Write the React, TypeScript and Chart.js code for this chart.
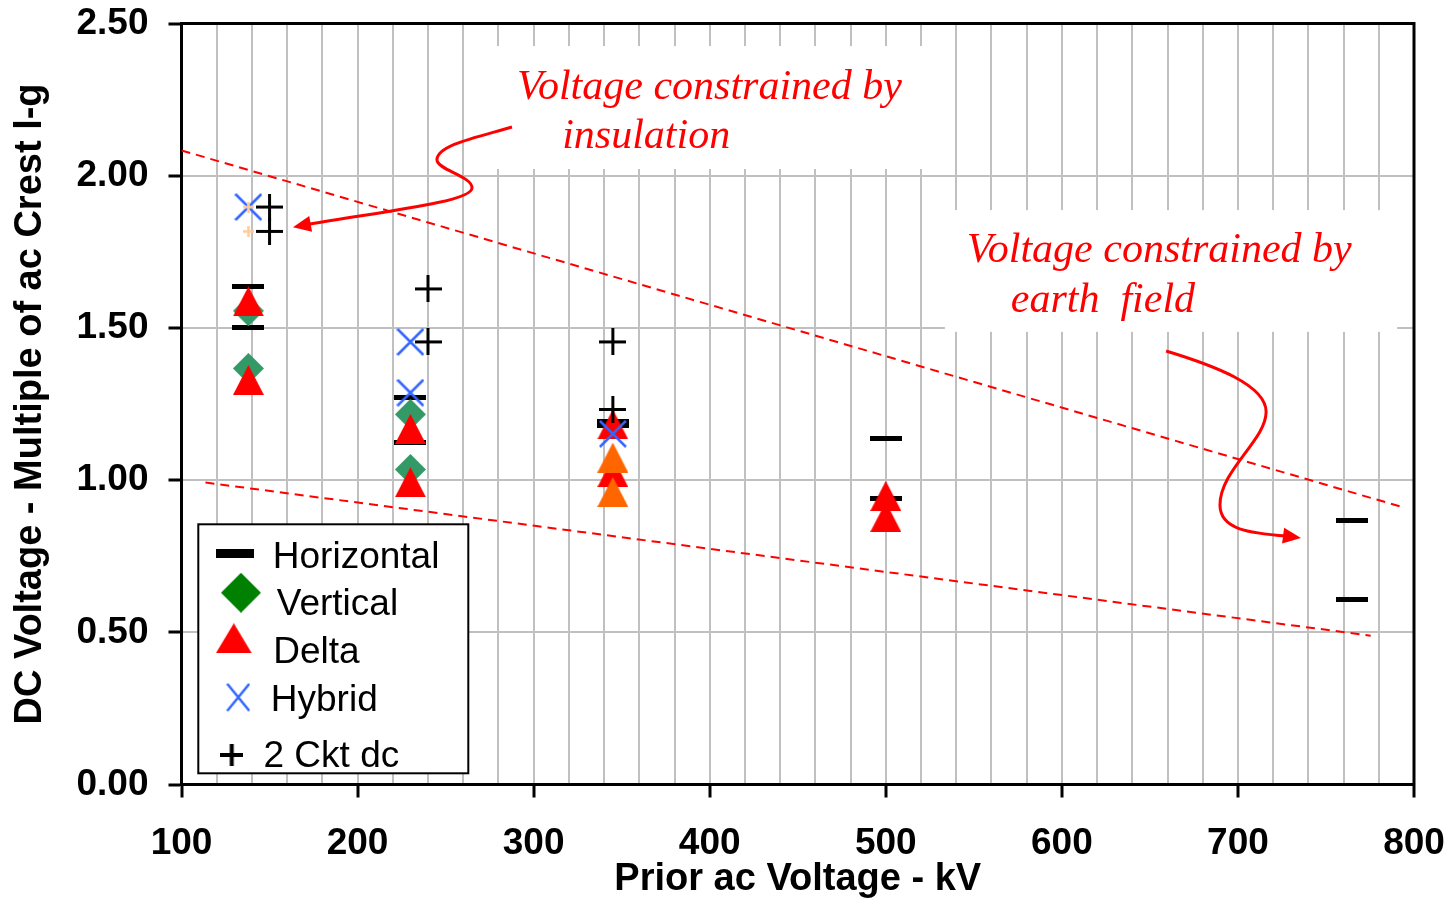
import React, { useEffect, useRef } from "react";
import { Chart, registerables } from "chart.js";

Chart.register(...registerables);

// ---------------- data ----------------
const horizontalKV = [138, 138, 230, 230, 345, 345, 500, 500, 765, 765];
const horizontalDC = [1.636, 1.501, 1.271, 1.125, 1.193, 1.179, 1.137, 0.938, 0.868, 0.608];

const verticalKV = [138, 138, 230, 230];
const verticalDC = [1.556, 1.367, 1.216, 1.035];

const deltaKV = [138, 138, 230, 230, 345, 345, 500, 500];
const deltaDC = [1.587, 1.329, 1.168, 0.993, 1.183, 1.026, 0.948, 0.879];

const deltaOrangeKV = [345, 345];
const deltaOrangeDC = [1.074, 0.961];

const hybridKV = [138, 230, 230, 345];
const hybridDC = [1.897, 1.454, 1.287, 1.152];

const ckt2KV = [150, 150, 240, 240, 345, 345];
const ckt2DC = [1.897, 1.817, 1.628, 1.454, 1.454, 1.232];

const peachKV = [138, 138];
const peachDC = [1.897, 1.817];

const upperBoundKV = [100, 793.6];
const upperBoundDC = [2.083, 0.911];

const lowerBoundKV = [113.6, 775.4];
const lowerBoundDC = [0.992, 0.489];

const xTitle = "Prior ac Voltage - kV";
const yTitle = "DC Voltage - Multiple of ac Crest l-g";
const legendLabels = ["Horizontal", "Vertical", "Delta", "Hybrid", "2 Ckt dc"];

// annotations (data coordinates)
const noteLines = [
  { text: "Voltage constrained by", kv: 290.5, dc: 2.251 },
  { text: "insulation", kv: 316.2, dc: 2.09 },
  { text: "Voltage constrained by", kv: 546.0, dc: 1.717 },
  { text: "earth  field", kv: 571.0, dc: 1.553 },
];
const noteBoxes = [
  { kv0: 261.6, kv1: 528.5, dc0: 2.426, dc1: 2.022 },
  { kv0: 533.6, kv1: 790.4, dc0: 1.887, dc1: 1.487 },
];
// arrow paths: start point, then cubic segments [c1, c2, end], then tip
const arrow1 = {
  start: [287.7, 2.16],
  segs: [
    [[268.4, 2.127], [245.1, 2.101], [245.1, 2.052]],
    [[245.1, 2.019], [265.0, 1.999], [265.0, 1.96]],
    [[265.0, 1.914], [212.7, 1.881], [173.0, 1.841]],
  ],
  tip: [163.3, 1.831],
};
const arrow2 = {
  start: [659.2, 1.424],
  segs: [
    [[687.0, 1.375], [716.0, 1.312], [716.0, 1.224]],
    [[716.0, 1.132], [689.8, 1.033], [689.8, 0.918]],
    [[689.8, 0.836], [706.9, 0.826], [727.9, 0.816]],
  ],
  tip: [735.8, 0.81],
};

const SANS = '"Liberation Sans", Arial, sans-serif';
const SERIF = '"Liberation Serif", "Times New Roman", serif';

const pts = (xs: number[], ys: number[]) => xs.map((x, i) => ({ x, y: ys[i] }));

function mk(w: number, h: number, draw: (g: CanvasRenderingContext2D) => void) {
  const c = document.createElement("canvas");
  c.width = w;
  c.height = h;
  const g = c.getContext("2d")!;
  draw(g);
  return c;
}
const dashM = (w: number, h: number) =>
  mk(w, h, (g) => {
    g.fillStyle = "#000";
    g.fillRect(0, 0, w, h);
  });
const diamondM = (s: number, color: string) =>
  mk(s, s, (g) => {
    g.fillStyle = color;
    g.beginPath();
    g.moveTo(s / 2, 0);
    g.lineTo(s, s / 2);
    g.lineTo(s / 2, s);
    g.lineTo(0, s / 2);
    g.closePath();
    g.fill();
  });
const triM = (w: number, h: number, color: string) =>
  mk(w, h, (g) => {
    g.fillStyle = color;
    g.beginPath();
    g.moveTo(w / 2, 0);
    g.lineTo(w, h);
    g.lineTo(0, h);
    g.closePath();
    g.fill();
  });
const xM = (w: number, h: number, lw: number, color: string) =>
  mk(w, h, (g) => {
    g.strokeStyle = color;
    g.lineWidth = lw;
    g.beginPath();
    g.moveTo(1, 1);
    g.lineTo(w - 1, h - 1);
    g.moveTo(w - 1, 1);
    g.lineTo(1, h - 1);
    g.stroke();
  });
const plusM = (w: number, h: number, lw: number, color: string) =>
  mk(w, h, (g) => {
    g.strokeStyle = color;
    g.lineWidth = lw;
    g.beginPath();
    g.moveTo(w / 2, 0);
    g.lineTo(w / 2, h);
    g.moveTo(0, h / 2);
    g.lineTo(w, h / 2);
    g.stroke();
  });

export default function App() {
  const ref = useRef<HTMLCanvasElement>(null);

  useEffect(() => {
    const canvas = ref.current!;
    const M = {
      dash: dashM(32, 5),
      diamond: diamondM(31, "#339966"),
      tri: triM(31, 30, "#FF0000"),
      triO: triM(31, 30, "#FF6600"),
      x: xM(28, 28, 2.5, "#3366FF"),
      plus: plusM(27, 27, 3, "#000"),
      peach: plusM(11, 11, 2.5, "#FFCC99"),
    };
    const L = {
      dash: dashM(38, 9),
      diamond: diamondM(40, "#008000"),
      tri: triM(36, 30, "#FF0000"),
      x: xM(24, 29, 2.5, "#3366FF"),
      plus: plusM(23, 22, 4, "#000"),
    };

    const decor = {
      id: "decor",
      beforeDatasetsDraw(chart: any) {
        const { ctx, chartArea: a, scales } = chart;
        const xs = scales.x, ys = scales.y;
        ctx.save();
        ctx.fillStyle = "#FFFFFF";
        for (const b of noteBoxes) {
          const x0 = xs.getPixelForValue(b.kv0), x1 = xs.getPixelForValue(b.kv1);
          const y0 = ys.getPixelForValue(b.dc0), y1 = ys.getPixelForValue(b.dc1);
          ctx.fillRect(x0, y0, x1 - x0, y1 - y0);
        }
        ctx.strokeStyle = "#000";
        ctx.lineWidth = 3;
        ctx.beginPath();
        ctx.moveTo(a.left - 1.5, a.top);
        ctx.lineTo(a.right, a.top);
        ctx.lineTo(a.right, a.bottom + 1.5);
        ctx.stroke();
        ctx.restore();
      },
      afterDatasetsDraw(chart: any) {
        const { ctx, scales } = chart;
        const xs = scales.x, ys = scales.y;
        const P = (p: number[]) => [xs.getPixelForValue(p[0]), ys.getPixelForValue(p[1])];
        ctx.save();
        ctx.fillStyle = "#FF0000";
        ctx.font = `italic 42px ${SERIF}`;
        ctx.textBaseline = "alphabetic";
        ctx.textAlign = "left";
        for (const n of noteLines) {
          const [px, py] = P([n.kv, n.dc]);
          ctx.fillText(n.text, px, py);
        }
        for (const ar of [arrow1, arrow2]) {
          ctx.strokeStyle = "#FF0000";
          ctx.lineWidth = 3;
          ctx.beginPath();
          const s = P(ar.start);
          ctx.moveTo(s[0], s[1]);
          let last = s;
          for (const seg of ar.segs) {
            const c1 = P(seg[0]), c2 = P(seg[1]), e = P(seg[2]);
            ctx.bezierCurveTo(c1[0], c1[1], c2[0], c2[1], e[0], e[1]);
            last = e;
          }
          ctx.stroke();
          const t = P(ar.tip);
          const ang = Math.atan2(t[1] - last[1], t[0] - last[0]);
          const len = 18, hw = 8;
          const bx = t[0] - Math.cos(ang) * len, by = t[1] - Math.sin(ang) * len;
          ctx.beginPath();
          ctx.moveTo(t[0], t[1]);
          ctx.lineTo(bx - Math.sin(ang) * hw, by + Math.cos(ang) * hw);
          ctx.lineTo(bx + Math.sin(ang) * hw, by - Math.cos(ang) * hw);
          ctx.closePath();
          ctx.fill();
        }
        ctx.restore();
      },
      afterDraw(chart: any) {
        const { ctx, chartArea: a } = chart;
        const bl = a.left + 16.8, bt = a.bottom - 260.2, bw = 270, bh = 249;
        ctx.save();
        ctx.fillStyle = "#FFFFFF";
        ctx.fillRect(bl, bt, bw, bh);
        ctx.strokeStyle = "#000";
        ctx.lineWidth = 2;
        ctx.strokeRect(bl, bt, bw, bh);
        const items = [
          { m: L.dash, mx: 36.7, my: 29, tx: 74.5, ty: 43.4 },
          { m: L.diamond, mx: 42.7, my: 68.4, tx: 78.5, ty: 90.7 },
          { m: L.tri, mx: 35.5, my: 114, tx: 75, ty: 138.4 },
          { m: L.x, mx: 40, my: 173, tx: 72.5, ty: 186.7 },
          { m: L.plus, mx: 33.4, my: 230.7, tx: 65.2, ty: 242.4 },
        ];
        ctx.fillStyle = "#000";
        ctx.font = `37px ${SANS}`;
        ctx.textBaseline = "alphabetic";
        ctx.textAlign = "left";
        items.forEach((it, i) => {
          ctx.drawImage(it.m, bl + it.mx - it.m.width / 2, bt + it.my - it.m.height / 2);
          ctx.fillText(legendLabels[i], bl + it.tx, bt + it.ty);
        });
        ctx.restore();
      },
    };

    const scatterSet = (label: string, xs: number[], ys: number[], style: HTMLCanvasElement) => ({
      label,
      data: pts(xs, ys),
      pointStyle: style,
      pointRadius: 10,
      pointHoverRadius: 10,
      showLine: false,
    });

    const chart = new Chart(canvas, {
      type: "scatter",
      data: {
        datasets: [
          scatterSet("2 Ckt dc", ckt2KV, ckt2DC, M.plus),
          scatterSet("2 Ckt dc (alt)", peachKV, peachDC, M.peach),
          scatterSet("Hybrid", hybridKV, hybridDC, M.x),
          scatterSet("Delta (alt)", deltaOrangeKV, deltaOrangeDC, M.triO),
          scatterSet("Delta", deltaKV, deltaDC, M.tri),
          scatterSet("Vertical", verticalKV, verticalDC, M.diamond),
          scatterSet("Horizontal", horizontalKV, horizontalDC, M.dash),
          {
            label: "Insulation limit",
            data: pts(upperBoundKV, upperBoundDC),
            showLine: true,
            borderColor: "#FF0000",
            borderWidth: 2,
            borderDash: [9, 6],
            pointRadius: 0,
            fill: false,
          },
          {
            label: "Earth field limit",
            data: pts(lowerBoundKV, lowerBoundDC),
            showLine: true,
            borderColor: "#FF0000",
            borderWidth: 2,
            borderDash: [9, 6],
            pointRadius: 0,
            fill: false,
          },
        ] as any,
      },
      options: {
        responsive: false,
        animation: false,
        events: [],
        layout: { padding: { left: 0, top: 23.5, right: 35, bottom: 0 } },
        plugins: { legend: { display: false }, tooltip: { enabled: false } },
        scales: {
          x: {
            type: "linear",
            min: 100,
            max: 800,
            ticks: {
              stepSize: 20,
              autoSkip: false,
              maxRotation: 0,
              minRotation: 0,
              padding: 24,
              color: "#000",
              font: { family: SANS, size: 37, weight: "bold", lineHeight: 1.2 },
              callback: (v: any) => (Math.round(Number(v)) % 100 === 0 ? String(Math.round(Number(v))) : ""),
            },
            grid: {
              color: "#C0C0C0",
              lineWidth: 2,
              tickLength: 13,
              tickWidth: 3,
              tickColor: (c: any) =>
                c.tick && Math.round(c.tick.value) % 100 === 0 ? "#000" : "rgba(0,0,0,0)",
            },
            border: { color: "#000", width: 3 },
            title: {
              display: true,
              text: xTitle,
              color: "#000",
              font: { family: SANS, size: 38, weight: "bold", lineHeight: 1 },
              padding: { top: 0, bottom: 0 },
            },
            afterFit: (s: any) => {
              s.height = 114.5;
              s.paddingLeft = 0;
              s.paddingRight = 0;
            },
          },
          y: {
            type: "linear",
            min: 0,
            max: 2.5,
            ticks: {
              stepSize: 0.5,
              padding: 20,
              color: "#000",
              font: { family: SANS, size: 37, weight: "bold", lineHeight: 1.2 },
              callback: (v: any) => Number(v).toFixed(2),
            },
            grid: {
              color: "#C0C0C0",
              lineWidth: 2,
              tickLength: 13,
              tickWidth: 3,
              tickColor: "#000",
            },
            border: { color: "#000", width: 3 },
            title: {
              display: true,
              text: yTitle,
              color: "#000",
              font: { family: SANS, size: 38, weight: "bold", lineHeight: 1 },
              padding: { top: 12, bottom: 0 },
            },
            afterFit: (s: any) => {
              s.width = 181.5;
              s.paddingTop = 0;
              s.paddingBottom = 0;
            },
          },
        },
      } as any,
      plugins: [decor],
    });
    return () => chart.destroy();
  }, []);

  return (
    <div style={{ position: "absolute", left: 0, top: 0, width: 1449, height: 899, background: "#fff" }}>
      <canvas ref={ref} width={1449} height={899} style={{ display: "block" }} />
    </div>
  );
}
